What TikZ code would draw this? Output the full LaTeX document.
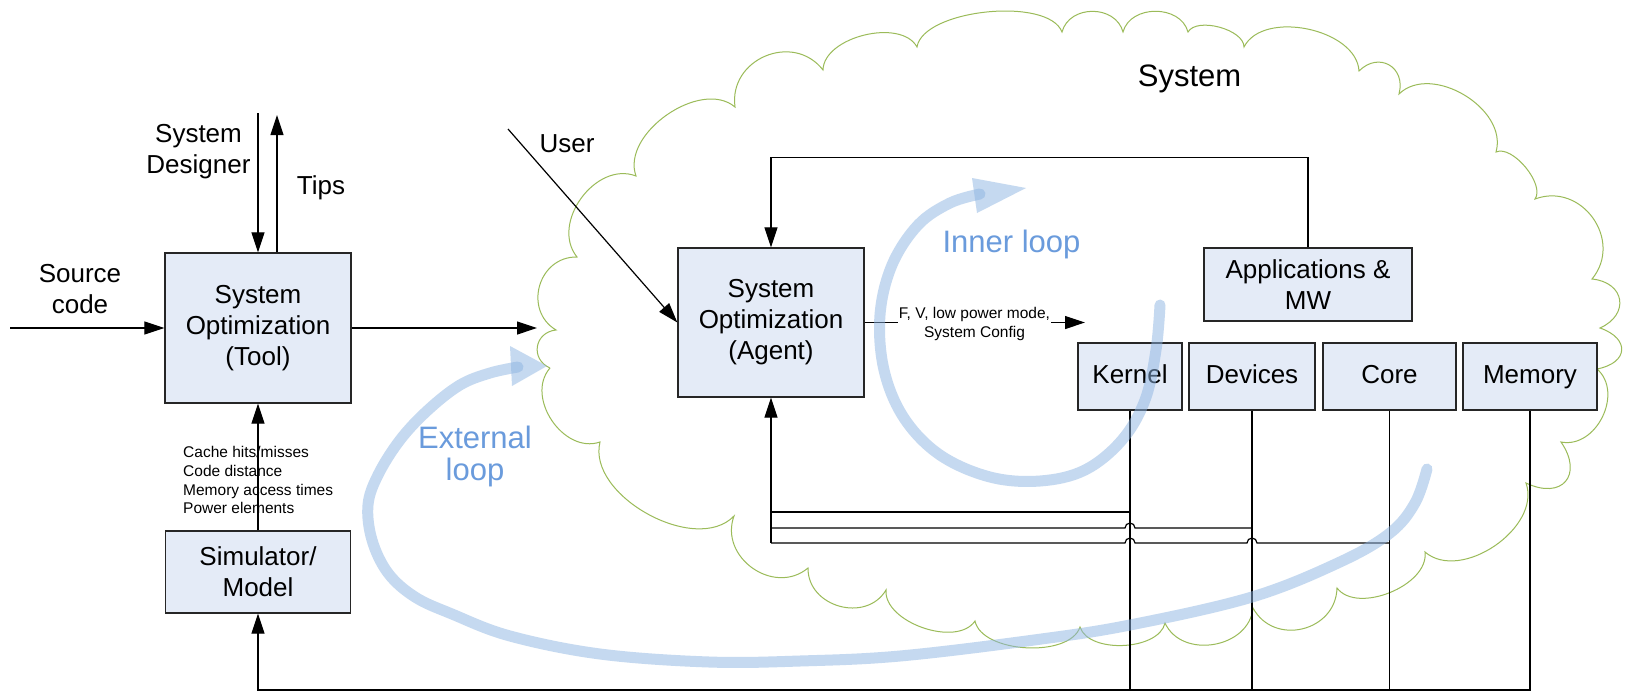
\documentclass[tikz,border=0pt]{standalone}
\usepackage{fontspec}
\setmainfont{Liberation Sans}
\usetikzlibrary{arrows.meta,calc}
\definecolor{boxfill}{RGB}{228,235,247}
\definecolor{cloudgreen}{RGB}{155,187,89}
\definecolor{loopblue}{RGB}{141,180,226}
\definecolor{looptext}{RGB}{106,155,220}
\tikzset{
  box/.style={draw=black!85, line width=1.3pt, fill=boxfill, inner sep=0pt, align=center, font=\fontsize{26}{31}\selectfont},
  unit/.style={box, minimum height=67pt, text height=19pt, text depth=5.5pt},
  conn/.style={line width=1.2pt, draw=black},
  arr/.style={conn, -{Triangle[length=20pt,width=13pt]}},
  small/.style={font=\fontsize{15.5}{18.7}\selectfont, inner sep=1pt},
  lbl/.style={font=\fontsize{26}{31}\selectfont, align=center, inner sep=0pt},
  looplbl/.style={font=\fontsize{31}{32}\selectfont, text=looptext, align=center, inner sep=0pt},
  cloudline/.style={draw=cloudgreen, line width=1pt},
  bmp/.style={bend left=75, looseness=#1},
  loopstroke/.style={draw=loopblue, line width=11pt, line cap=round, opacity=0.5},
  loophead/.style={fill=loopblue, opacity=0.5},
}
\begin{document}
\begin{tikzpicture}[x=1pt,y=-1pt]
\useasboundingbox[fill=white] (0,0) rectangle (1634,691);

% cloud
\draw[cloudline] (550,368) to[bmp=1.45] (556,330) to[bmp=1.3] (577,257) to[bmp=1.1] (636,176)
  to[bmp=0.95] (735,107) to[bmp=1.3] (823,70) to[bmp=0.88] (917,47) to[bmp=0.67] (1062,32)
  to[bmp=1.2] (1123,32) to[bmp=1.13] (1188,32) to[bmp=0.78] (1244,47) to[bmp=0.92] (1359,71)
  to[bmp=1.55] (1399,94) to[bmp=1.02] (1496,152) to[bmp=0.75] (1535,199) to[bmp=1.3] (1592,279)
  to[bmp=1.7] (1600,328) to[bmp=2.0] (1597,369) to[bmp=1.13] (1561,442) to[bmp=1.9] (1526,483)
  to[bmp=0.99] (1425,552) to[bmp=0.9] (1337,588) to[bmp=1.3] (1253,608) to[bmp=1.16] (1165,623)
  to[bmp=0.85] (1080,627) to[bmp=0.8] (975,621) to[bmp=0.88] (886,590) to[bmp=1.23] (808,568)
  to[bmp=1.25] (734,516) to[bmp=0.92] (600,442) to[bmp=1.1] (550,368);

% boxes
\node[box, minimum width=186pt, minimum height=150pt] (tool) at (258,328) {System\\Optimization\\(Tool)};
\node[box, minimum width=185pt, minimum height=82pt] (sim) at (258,572) {Simulator/\\Model};
\node[box, minimum width=186pt, minimum height=149pt] (agent) at (771,322.5) {System\\Optimization\\(Agent)};
\node[box, minimum width=208pt, minimum height=73pt] (apps) at (1308,284.5) {Applications \&\\MW};
\node[unit, minimum width=104pt] (kernel) at (1130,376.5) {Kernel};
\node[unit, minimum width=126pt] (devices) at (1252,376.5) {Devices};
\node[unit, minimum width=133pt] (core) at (1389.5,376.5) {Core};
\node[unit, minimum width=134pt] (memory) at (1530,376.5) {Memory};

% labels
\node[lbl] (syslbl) at (1189.5,79) {\fontsize{31}{35}\selectfont System};
\node[lbl] (designer) at (198.5,152) {System\\Designer};
\node[lbl] (tips) at (321,188) {Tips};
\node[lbl] (source) at (80,289) {Source\\code};
\node[lbl] (user) at (567,143.5) {User};
\node[small, anchor=west, align=left, inner sep=0pt] (stats) at (183,480.4)
  {Cache hits/misses\\Code distance\\Memory access times\\Power elements};
\node[small, align=center] (fv) at (974.5,324) {F, V, low power mode,\\System Config};

% connectors left
\coordinate (srcstart) at (10,328);
\coordinate (toolout) at (537,328);
\coordinate (desstart) at (258,113);
\coordinate (tipsend) at (277,115);
\draw[arr] (srcstart) -- (tool.west);
\draw[arr] (tool.east) -- (toolout);
\draw[arr] (desstart) -- (tool.north);
\draw[arr] (tool.north -| tipsend) -- (tipsend);
\draw[arr] (sim.north) -- (tool.south);

% agent connectors
\coordinate (userstart) at (508,129);
\draw[arr] (userstart) -- (agent.west);
\draw[arr] (apps.north) -- ++(0,-90) -| (agent.north);
\coordinate (fvend) at (1085,322.5);
\draw[conn] (agent.east) -- (fv.west |- agent.east);
\draw[arr] (fv.east |- agent.east) -- (fvend);

% bottom bus
\coordinate (bl) at (1530,690);
\draw[arr] (memory.south) -- (bl) -- (bl -| sim.south) -- (sim.south);
\draw[conn] (kernel.south) -- (kernel.south |- bl);
\draw[conn] (devices.south) -- (devices.south |- bl);
\draw[conn] (core.south) -- (core.south |- bl);
\coordinate (h1) at (771,512);
\coordinate (h2) at (771,528);
\coordinate (h3) at (771,543);
\draw[conn] (h1) -- (kernel.south |- h1);
\draw[conn] (h2) -- ($(kernel.south |- h2)+(-5,0)$) arc[start angle=180,end angle=360,radius=5] -- (devices.south |- h2);
\draw[conn] (h3) -- ($(kernel.south |- h3)+(-5,0)$) arc[start angle=180,end angle=360,radius=5]
  -- ($(devices.south |- h3)+(-5,0)$) arc[start angle=180,end angle=360,radius=5] -- (core.south |- h3);
\draw[arr] (h3) -- (agent.south);

% loop labels
\node[looplbl] (inner) at (1011.5,244) {Inner loop};
\node[looplbl] (external) at (475,456.6) {External\\loop};

% inner loop
\draw[loopstroke] plot[smooth, tension=0.6] coordinates {(1160,305) (1156,350) (1145,400) (1122,440) (1085,470) (1040,481) (990,477) (940,455) (904,418) (884,370) (880,315) (892,265) (918,225) (950,203) (980,194)};
\fill[loophead] (972,178) -- (1026,188) -- (977,213) -- cycle;

% external loop
\draw[loopstroke] plot[smooth, tension=0.6] coordinates {(1427,469) (1415,503) (1390,533) (1340,562) (1252,597) (1130,625) (1034,640) (900,656) (800,661) (709,662) (600,654) (510,636) (452,614) (415,597) (388,573) (372,540) (368,505) (378,475) (400,440) (428,410) (460,385) (490,373) (518,367)};
\fill[loophead] (510,346) -- (547,366) -- (512,386) -- cycle;
\end{tikzpicture}
\end{document}
